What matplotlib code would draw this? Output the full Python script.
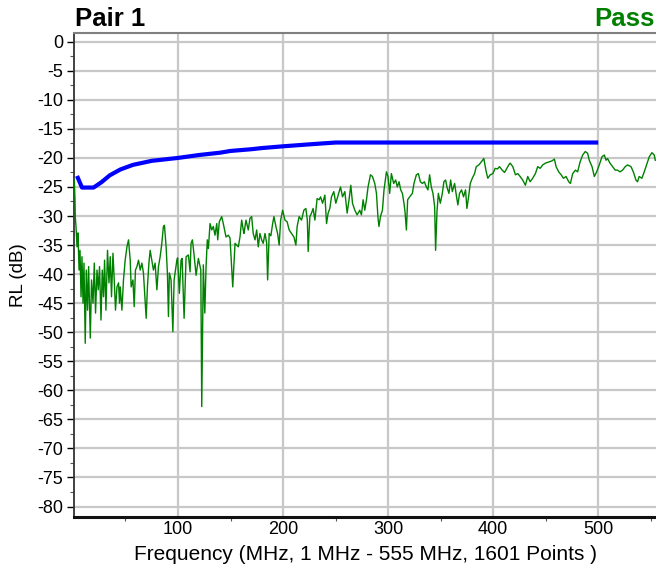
import numpy as np
import matplotlib
matplotlib.use("Agg")
import matplotlib.pyplot as plt
from matplotlib.ticker import MultipleLocator

plt.rcParams['font.family'] = ['Liberation Sans', 'DejaVu Sans']
plt.rcParams['axes.unicode_minus'] = False

# measured return loss, pair 1 (MHz, dB)
rl_freq = [
    1.3, 1.95, 2.2, 2.9, 3.9, 4.8, 5.8, 6.7, 7.7, 8.6, 9.6, 10.5, 11.7, 12.7, 13.9,
    14.9, 16.5, 17.7, 19.1, 20.3, 21.5, 22.9, 24.1, 25.3, 26.7, 27.9, 29.1, 30.1,
    31.4, 32.9, 34.3, 35.5, 36.7, 38.1, 39.3, 40.5, 41.9, 43.4, 44.3, 45.0, 46.6,
    48.1, 49.7, 51.4, 52.9, 54.5, 55.4, 57.1, 58.3, 59.5, 60.9, 62.4, 64.0, 65.6,
    67.1, 68.7, 69.7, 70.9, 72.3, 73.5, 75.1, 76.6, 78.2, 79.9, 81.4, 83.0, 84.6,
    86.1, 87.1, 88.7, 89.9, 90.9, 91.8, 93.4, 95.1, 96.3, 98.9, 99.6, 101.3, 102.9,
    103.9, 105.8, 107.7, 109.9, 111.5, 112.4, 113.7, 115.3, 117.2, 119.4, 121.7,
    122.6, 124.1, 125.5, 126.7, 127.9, 128.9, 130.5, 132.1, 133.6, 135.2, 136.9,
    137.8, 139.3, 141.6, 143.1, 145.7, 147.9, 149.5, 152.1, 154.3, 155.9, 157.4,
    159.0, 160.6, 162.1, 162.8, 164.7, 166.9, 168.5, 170.1, 171.6, 173.3, 174.9,
    176.4, 178.0, 179.6, 181.1, 182.8, 184.4, 185.3, 186.8, 188.4, 190.1, 191.3,
    193.2, 194.8, 196.3, 197.7, 199.6, 201.8, 203.9, 205.8, 208.1, 210.3, 212.2,
    213.4, 215.3, 217.6, 219.8, 221.7, 223.1, 223.9, 225.5, 227.1, 228.6, 230.3,
    232.4, 234.4, 235.7, 237.6, 239.8, 241.4, 242.9, 244.5, 246.1, 248.3, 250.2,
    252.4, 254.7, 256.6, 258.8, 261.0, 262.8, 264.5, 266.1, 268.3, 270.5, 273.0,
    274.6, 276.2, 277.8, 279.4, 280.9, 283.2, 285.1, 287.3, 288.9, 290.4, 291.3,
    292.7, 294.6, 296.1, 298.4, 299.9, 301.5, 303.1, 305.3, 307.2, 308.8, 310.4,
    312.0, 313.6, 315.1, 316.1, 317.4, 318.6, 320.5, 323.1, 324.6, 326.9, 328.8,
    330.7, 332.6, 334.5, 336.4, 337.9, 339.5, 341.1, 342.7, 344.3, 345.2, 346.5,
    347.8, 349.7, 351.6, 353.1, 354.7, 356.3, 357.9, 359.5, 361.1, 363.3, 364.9,
    366.4, 368.0, 369.9, 371.8, 373.7, 375.0, 376.6, 378.2, 380.1, 382.3, 383.9,
    386.4, 388.6, 391.1, 393.4, 394.9, 397.2, 399.7, 401.9, 404.1, 406.0, 408.6,
    410.8, 413.0, 414.9, 416.2, 418.7, 421.2, 423.4, 425.7, 428.1, 430.7, 432.9,
    435.2, 437.6, 440.2, 442.4, 444.7, 447.2, 449.7, 452.9, 456.1, 458.3, 459.9,
    462.4, 464.7, 466.9, 469.4, 471.9, 473.5, 475.7, 478.3, 480.4, 482.7, 485.2,
    487.7, 489.9, 491.5, 494.1, 496.3, 498.5, 501.0, 503.6, 505.8, 507.4, 508.9,
    511.2, 513.7, 516.2, 518.4, 520.7, 523.2, 525.7, 527.9, 531.2, 533.4, 535.9,
    537.4, 539.0, 541.6, 543.8, 546.0, 548.6, 551.1, 553.3, 554.3,
]
rl_db = [
    -23.8, -27.2, -30.1, -31.8, -35.3, -32.9, -39.3, -35.9, -43.9, -37.0, -45.0,
    -38.1, -51.9, -39.3, -46.2, -38.7, -51.0, -41.0, -45.0, -38.1, -46.7, -39.3,
    -42.7, -38.7, -47.9, -39.3, -43.9, -37.6, -46.2, -35.9, -41.5, -37.0, -43.9,
    -36.4, -41.0, -46.2, -42.2, -41.5, -45.0, -42.2, -46.2, -41.0, -37.6, -35.3,
    -34.1, -37.6, -42.2, -41.0, -45.6, -39.3, -38.7, -37.6, -39.3, -38.1, -39.8,
    -44.5, -47.6, -42.2, -38.1, -35.9, -37.6, -39.3, -38.1, -42.7, -38.7, -37.0,
    -34.7, -31.8, -31.6, -35.3, -39.8, -47.3, -39.8, -41.0, -49.9, -41.0, -37.6,
    -37.2, -43.3, -37.6, -37.3, -47.6, -37.0, -36.7, -39.6, -34.7, -34.1, -36.7,
    -40.2, -37.3, -39.3, -62.8, -38.4, -46.7, -38.7, -34.1, -35.6, -31.3, -32.4,
    -31.8, -33.3, -31.3, -34.1, -31.0, -30.1, -31.3, -33.6, -33.3, -33.8, -42.2,
    -34.7, -35.0, -35.3, -33.6, -30.7, -32.4, -33.0, -30.7, -32.4, -30.4, -30.1,
    -33.0, -34.1, -32.4, -35.3, -33.0, -34.1, -34.7, -33.0, -34.7, -41.0, -33.0,
    -33.4, -31.3, -30.1, -31.8, -33.0, -35.0, -30.7, -29.0, -30.7, -31.0, -32.4,
    -33.0, -33.6, -35.0, -31.8, -30.1, -30.7, -29.0, -28.7, -30.7, -36.1, -30.1,
    -29.5, -28.7, -30.7, -27.0, -27.2, -26.7, -27.8, -26.4, -31.3, -29.5, -28.7,
    -26.7, -25.8, -27.8, -26.4, -25.0, -26.7, -25.8, -29.5, -27.2, -24.7, -27.8,
    -29.0, -29.8, -29.0, -29.8, -27.2, -29.0, -27.2, -25.0, -22.9, -23.2, -24.4,
    -26.1, -30.4, -31.8, -30.1, -29.0, -25.5, -22.4, -23.2, -26.1, -22.7, -24.4,
    -23.8, -25.0, -24.1, -25.5, -26.1, -27.8, -29.3, -32.4, -27.2, -26.7, -26.1,
    -24.4, -22.9, -22.7, -24.1, -24.4, -24.1, -25.0, -25.5, -22.9, -25.0, -26.1,
    -28.4, -35.9, -29.3, -26.1, -27.8, -26.1, -24.1, -23.8, -25.2, -26.1, -23.8,
    -25.8, -24.4, -26.4, -28.1, -26.1, -25.5, -26.7, -25.5, -28.7, -26.7, -24.4,
    -23.5, -22.7, -21.5, -21.2, -20.7, -20.1, -22.4, -23.5, -22.9, -22.7, -21.8,
    -21.9, -21.5, -22.1, -22.5, -21.8, -21.2, -20.9, -21.5, -22.9, -22.7, -23.2,
    -23.8, -24.7, -23.2, -24.1, -23.5, -22.7, -21.5, -21.8, -21.2, -20.9, -20.7,
    -20.5, -20.2, -21.5, -22.4, -22.9, -23.5, -23.2, -24.1, -24.4, -22.7, -22.1,
    -22.4, -20.7, -19.5, -18.9, -19.2, -20.4, -21.5, -23.2, -22.4, -21.2, -19.8,
    -19.5, -20.4, -20.1, -20.9, -21.5, -22.1, -22.1, -22.4, -22.1, -21.5, -21.2,
    -21.5, -22.4, -23.8, -24.1, -23.2, -23.5, -22.4, -21.2, -19.8, -19.1, -19.5,
    -20.4,
]

# pass/fail limit line
limit_freq = [3.9, 8.6, 19.6, 27, 35, 45, 57, 75, 100, 120, 140, 150, 170, 180,
              200, 215, 230, 250, 500]
limit_db = [-23.1, -25.1, -25.1, -24.2, -23.0, -22.0, -21.2, -20.5, -20.0, -19.5,
            -19.1, -18.8, -18.5, -18.3, -18.0, -17.8, -17.6, -17.35, -17.35]

x_ticks = [100, 200, 300, 400, 500]
y_ticks = list(range(0, -85, -5))

fig = plt.figure(figsize=(6.56, 5.74), dpi=100)
ax = fig.add_axes([74 / 656, 1 - 517 / 574, 582 / 656, 484 / 574])

ax.plot(rl_freq, rl_db, color='#008000', lw=1.0, zorder=3)
ax.plot(limit_freq, limit_db, color='#0000ff', lw=3.0, solid_capstyle='butt', zorder=4)

ax.set_xlim(1, 555)
ax.set_ylim(-81.8, 1.5)
ax.set_xticks(x_ticks)
ax.set_yticks(y_ticks)
ax.xaxis.set_minor_locator(MultipleLocator(50))
ax.yaxis.set_minor_locator(MultipleLocator(2.5))
ax.grid(True, which='major', color='#c8c8c8', lw=1.6, zorder=0)
ax.set_axisbelow(True)

ax.tick_params(axis='x', which='major', length=0, pad=3, labelsize=13)
ax.tick_params(axis='x', which='minor', length=3, width=0.8, color='#555555')
ax.tick_params(axis='y', which='major', length=5, width=1, pad=3, labelsize=13)
ax.tick_params(axis='y', which='minor', length=3, width=0.8, color='#555555')

ax.spines['right'].set_visible(False)
ax.spines['top'].set_color('#808080')
ax.spines['top'].set_linewidth(1.5)
ax.spines['left'].set_color('#333333')
ax.spines['left'].set_linewidth(1.3)
ax.spines['bottom'].set_color('#111111')
ax.spines['bottom'].set_linewidth(2.2)

ax.set_xlabel('Frequency (MHz, 1 MHz - 555 MHz, 1601 Points )', fontsize=15, labelpad=5)
ax.set_ylabel('RL (dB)', fontsize=13.5)
ax.yaxis.set_label_coords(-0.080, 0.5)

fig.text(75 / 656, 1 - 26 / 574, 'Pair 1', fontsize=18.5, fontweight='bold',
         ha='left', va='baseline')
fig.text(655 / 656, 1 - 26 / 574, 'Pass', fontsize=18.5, fontweight='bold',
         color='#008000', ha='right', va='baseline')

fig.savefig('out.png', dpi=100)
